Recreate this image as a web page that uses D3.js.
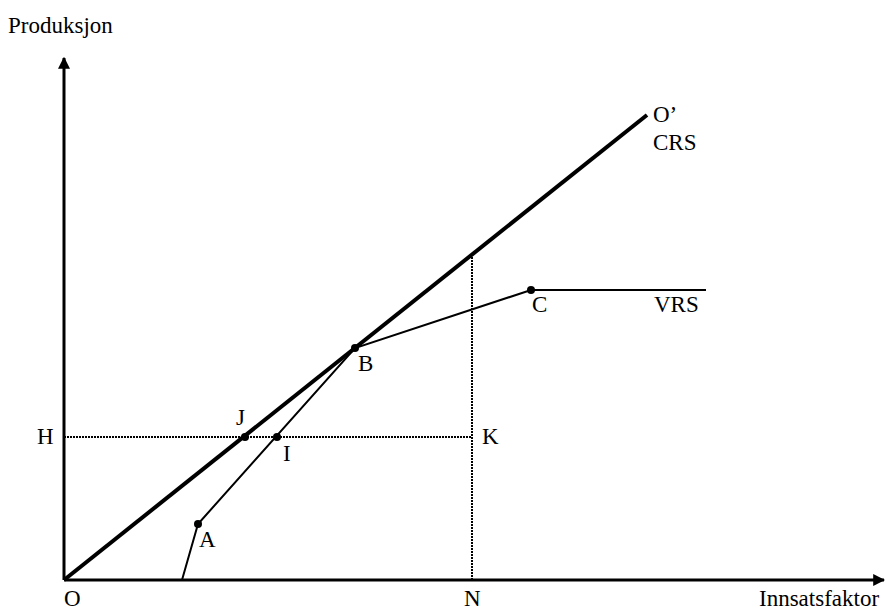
<!DOCTYPE html>
<html>
<head>
<meta charset="utf-8">
<script src="https://cdn.jsdelivr.net/npm/d3@7/dist/d3.min.js"></script>
<style>
  html, body { margin: 0; padding: 0; background: #fff; }
  text { font-family: "Liberation Serif", "Times New Roman", serif; font-size: 23px; fill: #000; }
</style>
</head>
<body>
<svg id="chart" width="888" height="610"></svg>
<script>
// ---- data (input units on x, output units on y) ----
const xMax = 820, yMax = 522;
const crsLine = [[0, 0], [583, 465]];                       // constant returns frontier O -> O'
const vrsLine = [[118, 0], [134, 56], [291, 232], [467, 290], [642, 290]]; // variable returns frontier
const markedPoints = [
  { name: "A", x: 134, y: 56 },
  { name: "B", x: 291, y: 232 },
  { name: "C", x: 467, y: 290 },
  { name: "J", x: 181, y: 143 },
  { name: "I", x: 213, y: 143 }
];
const levelH = 143;   // output level of H
const inputN = 408;   // input level of N
const nCrsY = 465 / 583 * 408; // CRS output at N (on frontier)

const svg = d3.select("#chart");
const x = d3.scaleLinear().domain([0, xMax]).range([64, 884]);
const y = d3.scaleLinear().domain([0, yMax]).range([580, 58]);
const line = d3.line().x(d => x(d[0])).y(d => y(d[1]));

// arrow marker
svg.append("defs").append("marker")
  .attr("id", "arr").attr("viewBox", "0 0 10 10").attr("refX", 9).attr("refY", 5)
  .attr("markerWidth", 4).attr("markerHeight", 4).attr("orient", "auto")
  .append("path").attr("d", "M0,0 L10,5 L0,10 z").attr("fill", "#000");

// dotted guide lines
svg.append("path").attr("d", line([[0, levelH], [inputN, levelH]]))
  .attr("stroke", "#000").attr("stroke-width", 2).attr("stroke-dasharray", "2,1").attr("fill", "none");
svg.append("path").attr("d", line([[inputN, 0], [inputN, nCrsY]]))
  .attr("stroke", "#000").attr("stroke-width", 2).attr("stroke-dasharray", "2,1").attr("fill", "none");

// axes
svg.append("path").attr("d", line([[0, 0], [0, yMax]]))
  .attr("stroke", "#000").attr("stroke-width", 3).attr("marker-end", "url(#arr)");
svg.append("path").attr("d", line([[0, 0], [xMax, 0]]))
  .attr("stroke", "#000").attr("stroke-width", 3).attr("marker-end", "url(#arr)");

// frontiers
svg.append("path").attr("d", line(crsLine)).attr("stroke", "#000").attr("stroke-width", 4).attr("fill", "none");
svg.append("path").attr("d", line(vrsLine)).attr("stroke", "#000").attr("stroke-width", 2).attr("fill", "none");

// points
svg.selectAll("circle.pt").data(markedPoints).join("circle")
  .attr("class", "pt").attr("cx", d => x(d.x)).attr("cy", d => y(d.y)).attr("r", 4).attr("fill", "#000");

// labels
const labels = [
  ["Produksjon", 8, 33],
  ["O", 64, 606], ["N", 464, 606], ["Innsatsfaktor", 759, 606],
  ["A", 199, 547], ["J", 236, 425], ["I", 283, 461], ["B", 358, 371],
  ["C", 532, 312], ["VRS", 654, 312], ["O\u2019", 653, 122], ["CRS", 653, 150],
  ["H", 37, 444], ["K", 482, 444]
];
svg.selectAll("text.lbl").data(labels).join("text")
  .attr("class", "lbl").attr("x", d => d[1]).attr("y", d => d[2]).text(d => d[0]);
</script>
</body>
</html>
